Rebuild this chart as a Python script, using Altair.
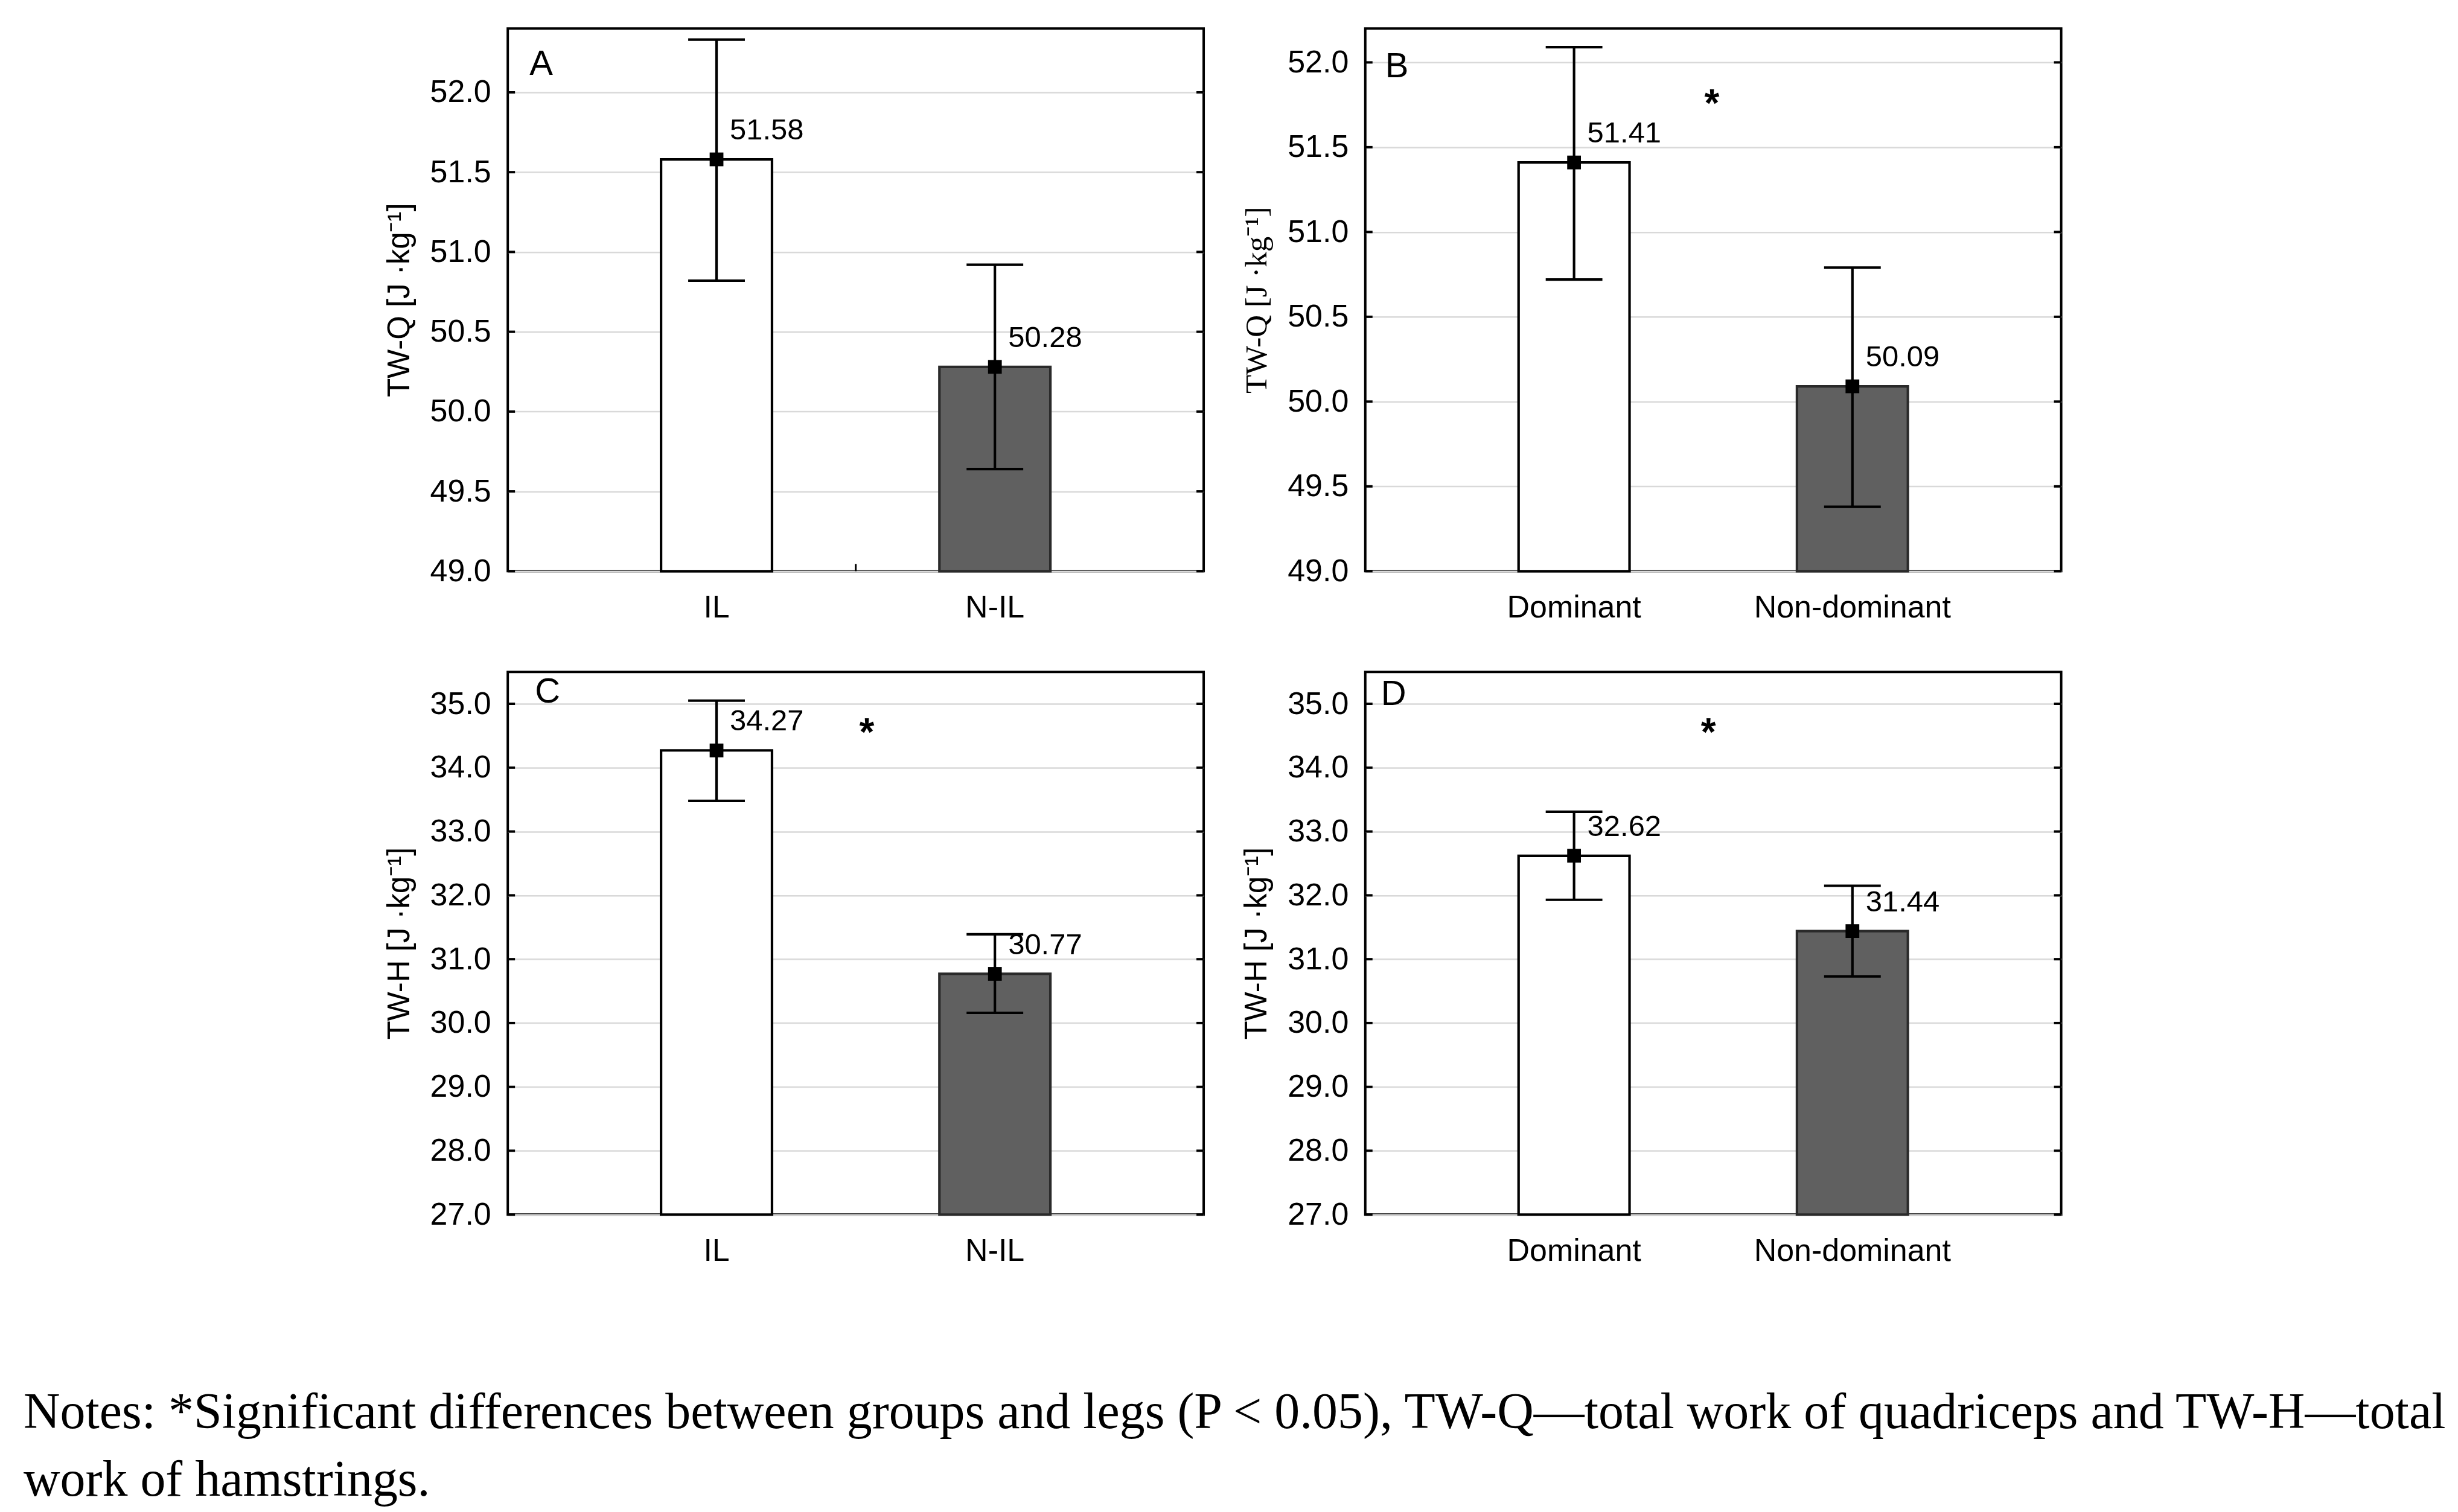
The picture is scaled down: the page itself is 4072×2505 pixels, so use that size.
import altair as alt
import pandas as pd

# ---------------- data ----------------
cats_group = ["IL", "N-IL"]
cats_leg = ["Dominant", "Non-dominant"]

twq_group_mean = [51.58, 50.28]
twq_group_lo = [50.82, 49.64]
twq_group_hi = [52.33, 50.92]

twq_leg_mean = [51.41, 50.09]
twq_leg_lo = [50.72, 49.38]
twq_leg_hi = [52.09, 50.79]

twh_group_mean = [34.27, 30.77]
twh_group_lo = [33.48, 30.16]
twh_group_hi = [35.05, 31.39]

twh_leg_mean = [32.62, 31.44]
twh_leg_lo = [31.93, 30.73]
twh_leg_hi = [33.31, 32.15]

ticks_q = [49.0, 49.5, 50.0, 50.5, 51.0, 51.5, 52.0]
ticks_h = [27.0, 28.0, 29.0, 30.0, 31.0, 32.0, 33.0, 34.0, 35.0]

title_q = "TW-Q [J ·kg⁻¹]"
title_h = "TW-H [J ·kg⁻¹]"

star_b = 51.81
star_c = 34.69
star_d = 34.69

notes_lines = [
    "Notes: *Significant differences between groups and legs (P < 0.05), TW-Q—total work of quadriceps and TW-H—total",
    "work of hamstrings.",
]

# ---------------- style ----------------
W, H = 1154, 900
SANS = "Liberation Sans"
SERIF = "Liberation Serif"
FS = 52
LW = 4.2


def panel(cats, mean, lo, hi, domain, ticks, title, title_font, letter,
          letter_xy, star, star_xfrac, strokes, mid_tick=False):
    df = pd.DataFrame({"cat": cats, "mean": mean, "lo": lo, "hi": hi})
    xs = alt.Scale(domain=cats, paddingInner=0.6014, paddingOuter=0.5507)
    ys = alt.Scale(domain=domain, nice=False, zero=False)
    x_axis = alt.Axis(title=None, labelAngle=0, ticks=False, domain=False,
                      grid=False, labelPadding=35, labelFontSize=FS,
                      labelFont=SANS, labelColor="black", labelLimit=0)
    y_axis = alt.Axis(title=title, values=ticks, format=".1f", ticks=False,
                      domain=False, grid=True, gridColor="#d9d9d9",
                      gridWidth=2.5, labelPadding=28, labelFontSize=FS,
                      labelFont=SANS, labelColor="black",
                      titleFont=title_font, titleFontSize=51,
                      titleFontWeight="normal", titleColor="black",
                      titlePadding=24)
    X = lambda f="cat": alt.X(f"{f}:N", scale=xs, sort=cats, axis=x_axis)
    Y = lambda f: alt.Y(f"{f}:Q", scale=ys, axis=y_axis)

    base = alt.Chart(df)
    bars = base.mark_bar(strokeWidth=LW).encode(
        x=X(), y=Y("mean"), y2=alt.datum(domain[0]),
        fill=alt.Fill("cat:N", scale=alt.Scale(domain=cats, range=["#ffffff", "#606060"]), legend=None),
        stroke=alt.Stroke("cat:N", scale=alt.Scale(domain=cats, range=strokes), legend=None),
    )
    err = base.mark_rule(strokeWidth=LW, color="black").encode(
        x=X(), y=Y("lo"), y2="hi:Q")
    cap_hi = base.mark_tick(size=94, thickness=LW, color="black", opacity=1).encode(
        x=X(), y=Y("hi"))
    cap_lo = base.mark_tick(size=94, thickness=LW, color="black", opacity=1).encode(
        x=X(), y=Y("lo"))
    pts = base.mark_square(size=520, color="black", opacity=1, filled=True).encode(
        x=X(), y=Y("mean"))
    labels = base.mark_text(align="left", baseline="middle", dx=22, dy=-48,
                            font=SANS, fontSize=49, color="black").encode(
        x=X(), y=Y("mean"), text=alt.Text("mean:Q", format=".2f"))

    tdf = pd.DataFrame({"t": ticks})
    tick_l = alt.Chart(tdf).mark_rule(strokeWidth=4, color="black").encode(
        y=Y("t"), x=alt.value(0), x2=alt.value(12))
    tick_r = alt.Chart(tdf).mark_rule(strokeWidth=4, color="black").encode(
        y=Y("t"), x=alt.value(W - 12), x2=alt.value(W))

    ldf = pd.DataFrame({"t": [letter]})
    let = alt.Chart(ldf).mark_text(align="left", baseline="alphabetic", font=SANS,
                                   fontSize=58, color="black").encode(
        text="t:N", x=alt.value(letter_xy[0]), y=alt.value(letter_xy[1]))

    layers = [bars, err, cap_hi, cap_lo, pts, labels, tick_l, tick_r, let]
    if mid_tick:
        mt = alt.Chart(ldf).mark_rule(strokeWidth=3, color="black").encode(
            x=alt.value(W / 2), y=alt.value(H - 12), y2=alt.value(H))
        layers.append(mt)
    if star is not None:
        sdf = pd.DataFrame({"v": [star], "s": ["*"]})
        st = alt.Chart(sdf).mark_text(align="center", baseline="alphabetic", dy=36,
                                      font=SANS, fontSize=64, fontWeight="bold",
                                      color="black").encode(
            x=alt.value(W * star_xfrac), y=Y("v"), text="s:N")
        layers.append(st)
    return alt.layer(*layers).properties(width=W, height=H)


pA = panel(cats_group, twq_group_mean, twq_group_lo, twq_group_hi, [49, 52.4],
           ticks_q, title_q, SANS, "A", (36, 77), None, 0.5,
           ["#000000", "#2a2a2a"], mid_tick=True)
pB = panel(cats_leg, twq_leg_mean, twq_leg_lo, twq_leg_hi, [49, 52.2],
           ticks_q, title_q, SERIF, "B", (33, 81), star_b, 0.498,
           ["#8c8c8c", "#2a2a2a"])
pC = panel(cats_group, twh_group_mean, twh_group_lo, twh_group_hi, [27, 35.5],
           ticks_h, title_h, SANS, "C", (45, 51), star_c, 0.516,
           ["#000000", "#2a2a2a"])
pD = panel(cats_leg, twh_leg_mean, twh_leg_lo, twh_leg_hi, [27, 35.5],
           ticks_h, title_h, SANS, "D", (26, 55), star_d, 0.493,
           ["#000000", "#2a2a2a"])

chart = alt.concat(pA, pB, pC, pD, columns=2,
                   spacing={"row": 167, "column": 268}, bounds="flush").properties(
    title=alt.TitleParams(
        text=notes_lines, orient="bottom", anchor="start", frame="group",
        dx=-803, offset=200, font=SERIF, fontSize=84, fontWeight="normal",
        color="black", lineHeight=112, baseline="top"),
    padding={"left": 31, "top": 36, "right": 5, "bottom": 5},
    background="white",
).configure_view(stroke="black", strokeWidth=4).configure_title(
    anchor="start")

chart.save("out.html", embed_options={"renderer": "svg", "actions": False})
